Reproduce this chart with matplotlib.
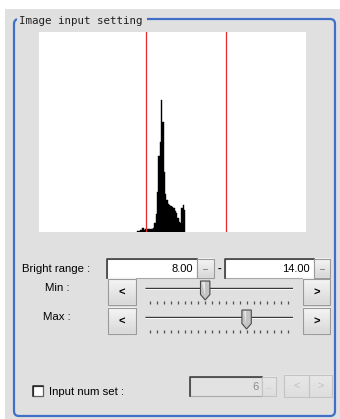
"""
Image input setting panel: brightness histogram with the bright range
(min / max) marked, plus the range boxes and sliders below it.
"""
import numpy as np
import matplotlib
matplotlib.use('Agg')
import matplotlib.pyplot as plt
from matplotlib.patches import Rectangle, FancyBboxPatch, Polygon

# ---- data -------------------------------------------------------------
# histogram bins (brightness), bin width 0.1, and relative counts
bin_start = 7.35
bin_width = 0.1
counts = [0.005, 0.006, 0.009, 0.012, 0.022, 0.012, 0.013, 0.013,
          0.014, 0.015, 0.015, 0.016, 0.018, 0.045, 0.09, 0.20,
          0.38, 0.45, 0.66, 0.55, 0.30, 0.19, 0.16, 0.14,
          0.135, 0.13, 0.125, 0.12, 0.105, 0.095, 0.07, 0.05,
          0.045, 0.12, 0.135, 0.11]
x_range = (0, 20)
bright_min = 8.00
bright_max = 14.00
input_num = 6

title = 'Image input setting'
lbl_range = 'Bright range :'
lbl_min = 'Min :'
lbl_max = 'Max :'
lbl_input = 'Input num set :'

# ---- figure -----------------------------------------------------------
W, H = 340, 419
fig = plt.figure(figsize=(W / 100, H / 100), dpi=100)
fig.patch.set_facecolor('white')

ui = fig.add_axes([0, 0, 1, 1])
ui.set_xlim(0, W)
ui.set_ylim(H, 0)
ui.axis('off')

PANEL = '#e0e0e0'
BLUE = '#3f6fc6'
FONT = 'Liberation Sans'


def pix_axes(x0, y0, x1, y1):
    # axes placed by pixel box (top-left origin)
    return fig.add_axes([x0 / W, 1 - y1 / H, (x1 - x0) / W, (y1 - y0) / H])


def gradient(x0, y0, x1, y1, top, bottom, z=2):
    c0 = np.array(matplotlib.colors.to_rgb(top))
    c1 = np.array(matplotlib.colors.to_rgb(bottom))
    t = np.linspace(0, 1, 32)[:, None]
    img = (c0 * (1 - t) + c1 * t)[:, None, :]
    ui.imshow(img, extent=(x0, x1, y1, y0), aspect='auto', zorder=z,
              interpolation='bilinear')


def button(x0, y0, x1, y1, label='', enabled=True, size=8):
    if enabled:
        gradient(x0, y0, x1, y1, '#f7f6f6', '#d9d9d9')
        edge, tc = '#9a9a9a', 'black'
    else:
        gradient(x0, y0, x1, y1, '#e8e8e8', '#dedede')
        edge, tc = '#c4c4c4', '#c0c0c0'
    ui.add_patch(Rectangle((x0, y0), x1 - x0, y1 - y0, fill=False,
                           ec=edge, lw=0.8, zorder=3))
    if label:
        ui.text((x0 + x1) / 2, (y0 + y1) / 2 + 0.5, label, ha='center',
                va='center', fontsize=size, color=tc, family=FONT,
                fontweight='bold' if enabled else 'normal', zorder=4)


def textbox(x0, y0, x1, y1, value, enabled=True):
    fc = 'white' if enabled else '#e2e2e2'
    ui.add_patch(Rectangle((x0, y0), x1 - x0, y1 - y0, fc=fc,
                           ec='#a8a8a8', lw=0.8, zorder=2))
    ui.plot([x0, x0, x1], [y1, y0, y0], color='#404040', lw=1.2, zorder=3)
    ui.text(x1 - 3.5, (y0 + y1) / 2 + 0.5, value, ha='right', va='center',
            fontsize=8, family=FONT,
            color='black' if enabled else '#8c8c8c', zorder=4)


# panel background
ui.add_patch(Rectangle((5, 9), W - 5, H - 9, fc=PANEL, ec='none', zorder=0))

# blue group frame
ui.add_patch(FancyBboxPatch((14, 19), 321, 397,
                            boxstyle='round,pad=0,rounding_size=5',
                            fill=False, ec=BLUE, lw=1.6, zorder=1))
ui.add_patch(Rectangle((17, 14), 130, 10, fc=PANEL, ec='none', zorder=1.5))
ui.text(19, 20.5, title, ha='left', va='center', fontsize=7.8,
        family='DejaVu Sans Mono', color='#202020', zorder=2)

# ---- histogram --------------------------------------------------------
hx = pix_axes(39, 32, 306, 232)
hx.set_facecolor('white')
edges = bin_start + bin_width * np.arange(len(counts))
hx.bar(edges, counts, width=bin_width, align='edge', color='black',
       edgecolor='black', linewidth=0.3)
hx.axvline(bright_min, color='#e8292c', lw=0.9)
hx.axvline(bright_max, color='#e8292c', lw=0.9)
hx.set_xlim(*x_range)
hx.set_ylim(0, 1)
hx.set_xticks([])
hx.set_yticks([])
for s in hx.spines.values():
    s.set_visible(False)

# ---- bright range row ------------------------------------------------
ui.text(22, 268.5, lbl_range, ha='left', va='center', fontsize=8.2,
        family=FONT, zorder=4)
textbox(107, 259, 197, 277.5, f'{bright_min:.2f}')
button(197, 259, 214, 277.5, '...', size=5)
ui.text(219.5, 268.5, '-', ha='center', va='center', fontsize=8,
        family=FONT, fontweight='bold', zorder=4)
textbox(225, 259, 313.5, 277.5, f'{bright_max:.2f}')
button(314, 259, 330, 277.5, '...', size=5)


# ---- sliders ---------------------------------------------------------
def slider(y0, value, label):
    ui.text(57, y0 + 9, label, ha='center', va='center', fontsize=8.2,
            family=FONT, zorder=4)
    button(108, y0, 136, y0 + 25.5, '<')
    button(303, y0, 330, y0 + 25.5, '>')
    # slider axes spans the track; ticks at 0..20 span x 150..288
    unit = 138 / (x_range[1] - x_range[0])
    sx = pix_axes(145, y0, 293, y0 + 25.5)
    sx.set_xlim(x_range[0] - 5 / unit, x_range[1] + 5 / unit)
    sx.set_ylim(25.5, 0)
    sx.axis('off')
    sx.hlines(9, *sx.get_xlim(), color='#3a3a3a', lw=1.0)
    sx.hlines(10.2, *sx.get_xlim(), color='#fafafa', lw=0.7)
    ticks = np.arange(x_range[0], x_range[1] + 1)
    sx.vlines(ticks, 22.3, 24.6, color='#505050', lw=0.9)
    w = 4.7 / unit
    thumb = [(value - w, 2), (value + w, 2), (value + w, 15.5),
             (value, 21), (value - w, 15.5)]
    sx.add_patch(Polygon(thumb, closed=True, fc='#c4c4c4', ec='#4a4a4a',
                         lw=0.8, zorder=3))
    sx.add_patch(Polygon([(value - w * 0.6, 3), (value - w * 0.05, 3),
                          (value - w * 0.05, 17)], closed=True,
                         fc='#e6e6e6', ec='none', zorder=4))


slider(279, bright_min, lbl_min)
slider(308, bright_max, lbl_max)

# ---- input num set row -----------------------------------------------
ui.add_patch(Rectangle((32.5, 386), 10.5, 10, fc='white', ec='#606060',
                       lw=0.9, zorder=3))
ui.plot([32.5, 32.5, 43], [396, 386, 386], color='#202020', lw=1.1,
        zorder=4)
ui.text(49, 391.5, lbl_input, ha='left', va='center', fontsize=8.2,
        family=FONT, zorder=4)
textbox(190, 377, 262, 396, str(input_num), enabled=False)
button(262, 377, 276, 396, '...', enabled=False, size=5)
button(284, 374.5, 308.5, 397, '<', enabled=False)
button(309, 374.5, 331.5, 397, '>', enabled=False)

fig.savefig('out.png', dpi=100, facecolor=fig.get_facecolor())
